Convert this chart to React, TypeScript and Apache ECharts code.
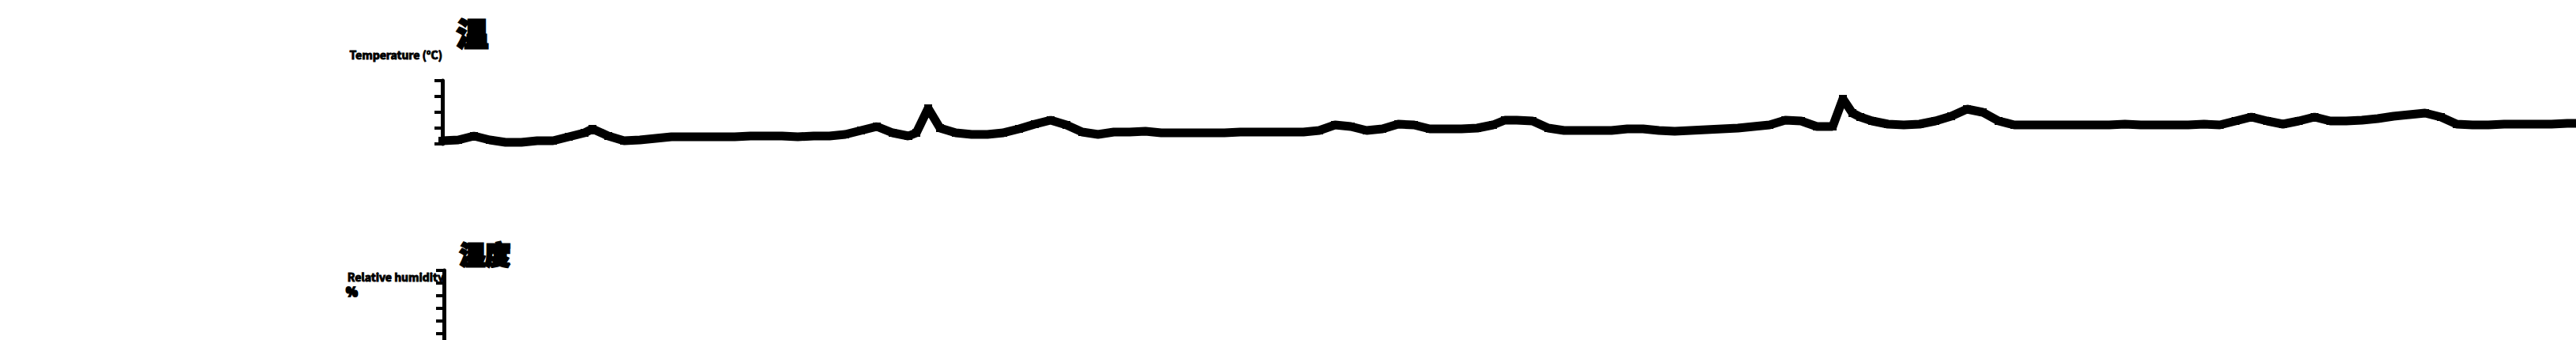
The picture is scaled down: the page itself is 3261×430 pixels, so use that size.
import React, { useEffect, useRef } from "react";
import * as echarts from "echarts";

// sample positions along the time axis and the top series values
const xs = [
  560, 580, 600, 620, 640, 660, 680, 700, 720, 740, 750, 770, 790, 810, 830, 850, 870, 890, 910, 930, 950, 970, 990,
  1010, 1030, 1050, 1070, 1090, 1110, 1130, 1150, 1160, 1175, 1190, 1210, 1230, 1250, 1270, 1290, 1310, 1330, 1350, 1370, 1390, 1410, 1430, 1450,
  1470, 1490, 1510, 1530, 1550, 1570, 1590, 1610, 1630, 1650, 1670, 1690, 1710, 1730, 1750, 1770, 1790, 1810, 1830, 1850, 1870, 1890, 1905,
  1920, 1940, 1960, 1980, 2000, 2020, 2040, 2060, 2080, 2100, 2120, 2140, 2160, 2180, 2200, 2220, 2240, 2260, 2280, 2300, 2320, 2333, 2345, 2355,
  2370, 2390, 2410, 2430, 2450, 2470, 2490, 2510, 2530, 2550, 2570, 2590, 2610, 2630, 2650, 2670, 2690, 2710, 2730, 2750, 2770, 2790,
  2810, 2830, 2850, 2870, 2890, 2910, 2930, 2950, 2970, 2990, 3010, 3030, 3050, 3070, 3090, 3110, 3130, 3150, 3170, 3190, 3210, 3230, 3250, 3261,
];
const topValues = [
  4, 5, 10, 5, 2, 2, 4, 4, 9, 14, 19, 10, 4, 5, 7, 9, 9, 9, 9, 9, 10, 10, 10,
  9, 10, 10, 12, 17, 22, 14, 10, 14, 45, 20, 14, 12, 12, 14, 19, 25, 30, 24, 15, 12, 15, 15, 16,
  14, 14, 14, 14, 14, 15, 15, 15, 15, 15, 17, 24, 22, 17, 19, 25, 24, 19, 19, 19, 20, 24, 30,
  30, 29, 20, 17, 17, 17, 17, 19, 19, 17, 16, 17, 18, 19, 20, 22, 24, 30, 29, 22, 22, 57, 39, 34,
  29, 25, 24, 25, 29, 35, 44, 40, 29, 24, 24, 24, 24, 24, 24, 24, 25, 24, 24, 24, 24, 25,
  24, 29, 34, 29, 25, 29, 34, 29, 29, 30, 32, 35, 37, 39, 34, 25, 24, 24, 25, 25, 25, 25, 26, 26,
];
const titles = ["温", "湿度"];
const axisNames = ["Temperature (°C)", "Relative humidity"];
const unitLabel = "%";

export default function App() {
  const ref = useRef<HTMLDivElement>(null);
  useEffect(() => {
    if (!ref.current) return;
    const chart = echarts.init(ref.current, null, { renderer: "svg" });
    const font = "'Noto Sans CJK SC', 'Noto Sans', sans-serif";
    const data = xs.map((x, i) => [x, topValues[i]]);
    chart.setOption({
      animation: false,
      backgroundColor: "#ffffff",
      textStyle: { fontFamily: font },
      title: [
        {
          text: titles[0],
          left: 578,
          top: 21,
          padding: 0,
          textStyle: {
            fontSize: 40,
            fontWeight: 900,
            color: "#000",
            fontFamily: font,
            textBorderColor: "#000",
            textBorderWidth: 3,
          },
        },
        {
          text: titles[1],
          left: 582,
          top: 304,
          padding: 0,
          textStyle: {
            fontSize: 32,
            fontWeight: 900,
            color: "#000",
            fontFamily: font,
            textBorderColor: "#000",
            textBorderWidth: 3,
          },
        },
      ],
      graphic: [
        {
          type: "text",
          left: 437,
          top: 360,
          style: {
            text: unitLabel,
            fontSize: 15,
            fontWeight: 900,
            fill: "#000",
            fontFamily: font,
            stroke: "#000",
            lineWidth: 2,
          },
        },
      ],
      grid: [
        { left: 560, right: 0, top: 102, height: 80 },
        { left: 562, right: 0, top: 342, height: 160 },
      ],
      xAxis: [
        { type: "value", gridIndex: 0, min: 560, max: 3261, show: false },
        { type: "value", gridIndex: 1, min: 560, max: 3261, show: false },
      ],
      yAxis: [
        {
          type: "value",
          gridIndex: 0,
          min: 0,
          max: 80,
          interval: 20,
          name: axisNames[0],
          nameLocation: "end",
          nameGap: 33,
          nameTextStyle: {
            align: "right",
            verticalAlign: "middle",
            fontSize: 14,
            fontWeight: "bold",
            color: "#000",
            fontFamily: font,
            textBorderColor: "#000",
            textBorderWidth: 1,
          },
          axisLine: { show: true, lineStyle: { color: "#000", width: 5 } },
          axisTick: { show: true, length: 10, lineStyle: { color: "#000", width: 4 } },
          axisLabel: { show: false },
          splitLine: { show: false },
        },
        {
          type: "value",
          gridIndex: 1,
          min: 0,
          max: 100,
          interval: 10,
          name: axisNames[1],
          nameLocation: "end",
          nameGap: -8,
          nameTextStyle: {
            align: "right",
            verticalAlign: "middle",
            fontSize: 14,
            fontWeight: "bold",
            color: "#000",
            fontFamily: font,
            textBorderColor: "#000",
            textBorderWidth: 1,
            padding: [0, 0, 0, 0],
          },
          axisLine: { show: true, lineStyle: { color: "#000", width: 5 } },
          axisTick: { show: true, length: 10, lineStyle: { color: "#000", width: 4 } },
          axisLabel: { show: false },
          splitLine: { show: false },
        },
      ],
      series: [
        {
          type: "line",
          xAxisIndex: 0,
          yAxisIndex: 0,
          data,
          showSymbol: true,
          symbol: "rect",
          symbolSize: 10,
          clip: false,
          lineStyle: { color: "#000", width: 11 },
          itemStyle: { color: "#000" },
        },
      ],
    });
    return () => chart.dispose();
  }, []);
  return (
    <div
      ref={ref}
      style={{ position: "absolute", left: 0, top: 0, width: 3261, height: 520, background: "#fff" }}
    />
  );
}
